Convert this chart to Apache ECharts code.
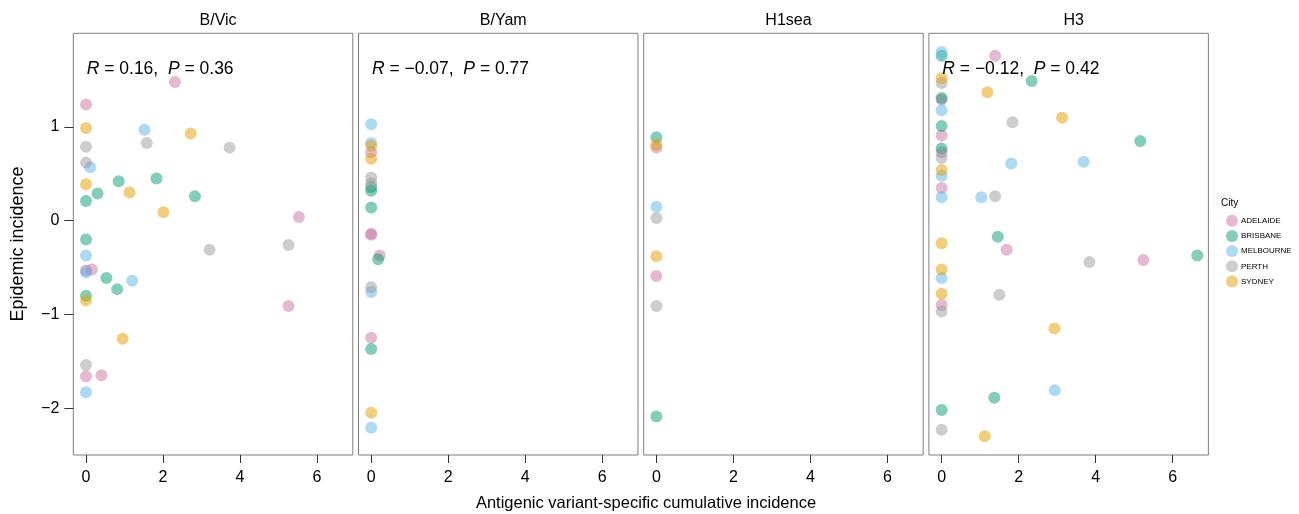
<!DOCTYPE html>
<html><head><meta charset="utf-8">
<script src="https://cdn.jsdelivr.net/npm/echarts@6/dist/echarts.min.js"></script>
<style>html,body{margin:0;padding:0;background:#fff;}#c{width:1299px;height:514px;}</style>
</head><body><div id="c"></div>
<script>
// ---- data ----
const PANELS = ['B/Vic', 'B/Yam', 'H1sea', 'H3'];
const CITIES = ['ADELAIDE', 'BRISBANE', 'MELBOURNE', 'PERTH', 'SYDNEY'];
const ANNOT_R = ['0.16', '\u22120.07', null, '\u22120.12'];
const ANNOT_P = ['0.36', '0.77', null, '0.42'];
const X_TICKS = [0, 2, 4, 6];
const Y_TICKS = [-2, -1, 0, 1];

// B/Vic
const BVIC_ADELAIDE = [[2.31,1.48],[0,1.24],[5.53,0.04],[0,-0.53],[0.15,-0.52],[5.26,-0.91],[0,-1.66],[0.40,-1.65]];
const BVIC_BRISBANE = [[0.85,0.42],[1.83,0.45],[0.30,0.29],[0,0.21],[2.83,0.26],[0,-0.20],[0.53,-0.61],[0.81,-0.73],[0,-0.80]];
const BVIC_MELBOURNE = [[1.52,0.97],[0.11,0.57],[0,-0.37],[0,-0.55],[1.20,-0.64],[0,-1.83]];
const BVIC_PERTH = [[1.58,0.83],[0,0.79],[3.73,0.78],[0,0.62],[3.21,-0.31],[5.26,-0.26],[0,-1.54]];
const BVIC_SYDNEY = [[0,0.99],[2.72,0.93],[0,0.39],[1.13,0.30],[2.01,0.09],[0,-0.85],[0.95,-1.26]];
// B/Yam
const BYAM_ADELAIDE = [[0,0.73],[0,-0.14],[0,-0.15],[0.22,-0.37],[0,-1.25]];
const BYAM_BRISBANE = [[0,0.36],[0,0.32],[0,0.14],[0.18,-0.41],[0,-1.37]];
const BYAM_MELBOURNE = [[0,1.03],[0,0.83],[0,-0.76],[0,-2.21]];
const BYAM_PERTH = [[0,0.46],[0,0.40],[0,-0.71]];
const BYAM_SYDNEY = [[0,0.80],[0,0.66],[0,-2.05]];
// H1sea
const H1_ADELAIDE = [[0,0.78],[0,-0.59]];
const H1_BRISBANE = [[0,0.89],[0,-2.09]];
const H1_MELBOURNE = [[0,0.15]];
const H1_PERTH = [[0,0.03],[0,-0.91]];
const H1_SYDNEY = [[0,0.81],[0,-0.38]];
// H3
const H3_ADELAIDE = [[1.39,1.76],[0,1.29],[0,0.91],[0,0.73],[0,0.35],[1.69,-0.31],[5.24,-0.42],[0,-0.90]];
const H3_BRISBANE = [[0,1.76],[2.34,1.49],[0,1.31],[0,1.01],[5.16,0.85],[0,0.77],[1.46,-0.17],[6.64,-0.37],[1.37,-1.89],[0,-2.02]];
const H3_MELBOURNE = [[0,1.80],[0,1.18],[1.81,0.61],[3.69,0.63],[0,0.48],[0,0.25],[1.03,0.25],[0,-0.61],[2.94,-1.81]];
const H3_PERTH = [[0,1.47],[1.84,1.05],[0,0.67],[1.39,0.26],[3.84,-0.44],[1.50,-0.79],[0,-0.97],[0,-2.23]];
const H3_SYDNEY = [[0,1.52],[1.19,1.37],[3.13,1.10],[0,0.54],[0,-0.24],[0,-0.52],[0,-0.78],[2.93,-1.15],[1.12,-2.30]];

const DATA = [
  [BVIC_ADELAIDE, BVIC_BRISBANE, BVIC_MELBOURNE, BVIC_PERTH, BVIC_SYDNEY],
  [BYAM_ADELAIDE, BYAM_BRISBANE, BYAM_MELBOURNE, BYAM_PERTH, BYAM_SYDNEY],
  [H1_ADELAIDE, H1_BRISBANE, H1_MELBOURNE, H1_PERTH, H1_SYDNEY],
  [H3_ADELAIDE, H3_BRISBANE, H3_MELBOURNE, H3_PERTH, H3_SYDNEY]
];

// ---- styling ----
const COLORS = ['rgba(204,121,167,0.65)','rgba(0,158,115,0.62)','rgba(86,180,233,0.62)','rgba(153,153,153,0.62)','rgba(230,159,0,0.65)'];
const FONT = '"Liberation Sans", Arial, Helvetica, sans-serif';
const GL = 73.3, GW = 279.5, GSTEP = 285.2, GT = 33.3, GH = 421.7;
const minus = v => String(v).replace('-', '\u2212');

const grids = [], xAxes = [], yAxes = [], series = [], titles = [], graphics = [];
PANELS.forEach((p, i) => {
  const left = GL + GSTEP * i;
  grids.push({left: left, top: GT, width: GW, height: GH, show: true, borderColor: '#7f7f7f', borderWidth: 1, backgroundColor: '#fff'});
  xAxes.push({
    type: 'value', gridIndex: i, min: -0.33, max: 6.93, position: 'bottom',
    splitLine: {show: false}, axisLine: {show: false, onZero: false},
    axisTick: {show: true, length: 8, inside: false, customValues: X_TICKS, lineStyle: {color: '#333', width: 1}},
    axisLabel: {show: true, customValues: X_TICKS, margin: 15, fontSize: 16, color: '#000', fontFamily: FONT}
  });
  yAxes.push({
    type: 'value', gridIndex: i, min: -2.5, max: 2.0, position: 'left',
    splitLine: {show: false}, axisLine: {show: false, onZero: false},
    axisTick: {show: i === 0, length: 9, customValues: Y_TICKS, lineStyle: {color: '#333', width: 1}},
    axisLabel: {show: i === 0, customValues: Y_TICKS, margin: 14, fontSize: 16, color: '#000', fontFamily: FONT, formatter: v => minus(v)}
  });
  titles.push({text: p, left: left + GW / 2, top: 8, textAlign: 'center',
    textStyle: {fontSize: 16, fontWeight: 'normal', color: '#000', fontFamily: FONT}});
  CITIES.forEach((c, k) => {
    series.push({
      type: 'scatter', name: c, xAxisIndex: i, yAxisIndex: i,
      symbol: 'circle', symbolSize: 12,
      itemStyle: {color: COLORS[k], borderWidth: 0},
      emphasis: {disabled: true},
      data: DATA[i][k]
    });
  });
  if (ANNOT_R[i] !== null) {
    graphics.push({type: 'text', left: left + 13.4, top: 60,
      style: {
        text: '{i|R}{n| = ' + ANNOT_R[i] + ',  }{i|P}{n| = ' + ANNOT_P[i] + '}',
        rich: {
          i: {fontStyle: 'italic', fontSize: 17.5, fontFamily: FONT, fill: '#000'},
          n: {fontSize: 17.5, fontFamily: FONT, fill: '#000'}
        }
      }, z: 100});
  }
});

graphics.push({type: 'text', x: 18, y: 244, rotation: Math.PI / 2,
  style: {text: 'Epidemic incidence', fontSize: 18, fontFamily: FONT, fill: '#000', align: 'center', verticalAlign: 'middle'}});
graphics.push({type: 'text', left: 1221, top: 198,
  style: {text: 'City', fontSize: 10, fontFamily: FONT, fill: '#000'}});

titles.push({text: 'Antigenic variant-specific cumulative incidence', left: 641, top: 490, textAlign: 'center',
  textStyle: {fontSize: 16.5, fontWeight: 'normal', color: '#000', fontFamily: FONT}});

const chart = echarts.init(document.getElementById('c'), null, {renderer: 'canvas'});
chart.setOption({
  animation: false,
  backgroundColor: '#fff',
  title: titles,
  grid: grids,
  xAxis: xAxes,
  yAxis: yAxes,
  legend: {
    data: CITIES, orient: 'vertical', left: 1226, top: 214.7, padding: 0,
    itemWidth: 12, itemHeight: 12, itemGap: 3.2, icon: 'circle',
    textStyle: {fontSize: 8, color: '#000', fontFamily: FONT, padding: [0, 0, 0, -2]},
    selectedMode: false
  },
  graphic: graphics,
  series: series
});
</script>
</body></html>
